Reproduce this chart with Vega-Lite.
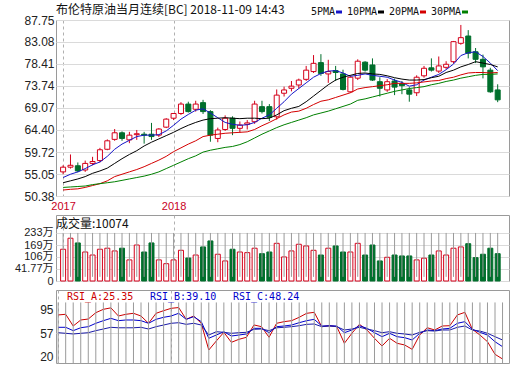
{
 "$schema": "https://vega.github.io/schema/vega-lite/v6.json",
 "background": "white",
 "padding": {"left": 13, "top": 3, "right": 5, "bottom": 0},
 "config": {
  "view": {"stroke": "#9a9a9a", "strokeWidth": 1},
  "axis": {"labelFont": "Liberation Sans, Noto Sans CJK SC", "labelFontSize": 12, "labelColor": "#222", "domain": false, "ticks": false, "gridColor": "#dadada", "labelPadding": 3, "labelOverlap": false},
  "title": {"font": "Noto Sans CJK SC", "fontSize": 12, "fontWeight": "normal", "color": "#111", "anchor": "start", "frame": "group"},
  "legend": {"labelFont": "DejaVu Sans Mono", "labelFontSize": 10, "labelColor": "#111"}
 },
 "spacing": 2,
 "resolve": {"scale": {"color": "independent"}, "legend": {"color": "independent"}},
 "datasets": {"wk": [
  {"date":"2017-09-22","o":55.5,"h":56.9,"l":55.0,"c":56.5,"v":146.6,"ma5":54.3,"ma10":53.2,"ma20":51.65,"ma30":52.2,"rsiA":86.9,"rsiB":66.8,"rsiC":58},
  {"date":"2017-09-29","o":56.5,"h":59.2,"l":56.2,"c":56.9,"v":205,"ma5":55.0,"ma10":53.6,"ma20":51.8,"ma30":52.3,"rsiA":88.0,"rsiB":66.8,"rsiC":57},
  {"date":"2017-10-06","o":56.8,"h":57.5,"l":55.4,"c":55.7,"v":180,"ma5":55.5,"ma10":54.0,"ma20":51.9,"ma30":52.4,"rsiA":68.9,"rsiB":61.3,"rsiC":55.9},
  {"date":"2017-10-13","o":55.9,"h":57.9,"l":55.5,"c":57.3,"v":132,"ma5":56.2,"ma10":54.5,"ma20":52.2,"ma30":52.5,"rsiA":78.7,"rsiB":66.1,"rsiC":57},
  {"date":"2017-10-20","o":57.3,"h":58.7,"l":56.9,"c":57.7,"v":116,"ma5":57.0,"ma10":55.2,"ma20":52.6,"ma30":52.8,"rsiA":80.3,"rsiB":67.8,"rsiC":58},
  {"date":"2017-10-27","o":57.9,"h":60.6,"l":57.5,"c":60.2,"v":146.6,"ma5":57.6,"ma10":55.7,"ma20":53.0,"ma30":53.0,"rsiA":90.6,"rsiB":73.3,"rsiC":61.3},
  {"date":"2017-11-03","o":60.3,"h":62.4,"l":60.1,"c":62.1,"v":152,"ma5":58.8,"ma10":56.3,"ma20":53.6,"ma30":53.2,"rsiA":96.1,"rsiB":77.6,"rsiC":64},
  {"date":"2017-11-10","o":62.4,"h":64.6,"l":62.1,"c":63.8,"v":137.6,"ma5":60.3,"ma10":57.3,"ma20":54.5,"ma30":53.4,"rsiA":98.5,"rsiB":81.4,"rsiC":66.8},
  {"date":"2017-11-17","o":63.8,"h":64.1,"l":62.1,"c":62.6,"v":152,"ma5":61.4,"ma10":58.3,"ma20":55.0,"ma30":53.7,"rsiA":85.2,"rsiB":77.6,"rsiC":66},
  {"date":"2017-11-24","o":62.3,"h":64.0,"l":61.6,"c":63.3,"v":90,"ma5":62.2,"ma10":59.2,"ma20":55.5,"ma30":54.0,"rsiA":88,"rsiB":78.7,"rsiC":66},
  {"date":"2017-12-01","o":63.4,"h":64.4,"l":62.3,"c":63.6,"v":169,"ma5":63.0,"ma10":60.0,"ma20":56.0,"ma30":54.3,"rsiA":89.6,"rsiB":78.7,"rsiC":66},
  {"date":"2017-12-08","o":63.5,"h":64.0,"l":61.5,"c":63.3,"v":132,"ma5":63.3,"ma10":61.0,"ma20":56.6,"ma30":54.6,"rsiA":85.2,"rsiB":77.6,"rsiC":66.8},
  {"date":"2017-12-15","o":63.5,"h":65.9,"l":62.3,"c":63.0,"v":180,"ma5":63.3,"ma10":61.8,"ma20":57.3,"ma30":55.0,"rsiA":73.3,"rsiB":73.3,"rsiC":64},
  {"date":"2017-12-22","o":63.3,"h":64.8,"l":62.9,"c":64.6,"v":90,"ma5":63.4,"ma10":62.5,"ma20":58.0,"ma30":55.5,"rsiA":89.6,"rsiB":79.8,"rsiC":67.8},
  {"date":"2017-12-29","o":65.0,"h":66.9,"l":64.8,"c":66.7,"v":70,"ma5":64.2,"ma10":63.2,"ma20":58.8,"ma30":56.2,"rsiA":93.9,"rsiB":83.1,"rsiC":70.5},
  {"date":"2018-01-05","o":66.9,"h":68.0,"l":66.5,"c":67.9,"v":90,"ma5":65.4,"ma10":63.9,"ma20":59.8,"ma30":56.9,"rsiA":97.7,"rsiB":85.2,"rsiC":73.3},
  {"date":"2018-01-12","o":67.9,"h":70.3,"l":67.6,"c":69.9,"v":141,"ma5":66.7,"ma10":64.7,"ma20":60.6,"ma30":57.6,"rsiA":99,"rsiB":89.6,"rsiC":74.3},
  {"date":"2018-01-19","o":69.9,"h":70.4,"l":68.1,"c":68.3,"v":100,"ma5":67.7,"ma10":65.4,"ma20":61.4,"ma30":58.3,"rsiA":79.8,"rsiB":79.8,"rsiC":71.6},
  {"date":"2018-01-26","o":68.8,"h":70.6,"l":68.3,"c":69.9,"v":116,"ma5":68.6,"ma10":66.0,"ma20":62.1,"ma30":58.9,"rsiA":85.2,"rsiB":84.1,"rsiC":73.3},
  {"date":"2018-02-02","o":70.2,"h":70.8,"l":67.8,"c":68.3,"v":158.8,"ma5":68.9,"ma10":66.5,"ma20":63.0,"ma30":59.7,"rsiA":73.3,"rsiB":76,"rsiC":70.5},
  {"date":"2018-02-09","o":68.3,"h":68.6,"l":61.9,"c":63.3,"v":190.6,"ma5":68.0,"ma10":66.8,"ma20":63.3,"ma30":60.1,"rsiA":29.8,"rsiB":48.9,"rsiC":54.2},
  {"date":"2018-02-16","o":62.6,"h":64.9,"l":61.8,"c":64.4,"v":120,"ma5":67.0,"ma10":66.9,"ma20":63.5,"ma30":60.4,"rsiA":44.5,"rsiB":54.2,"rsiC":59.6},
  {"date":"2018-02-23","o":64.5,"h":67.5,"l":64.2,"c":66.9,"v":84.6,"ma5":66.0,"ma10":67.0,"ma20":63.7,"ma30":60.7,"rsiA":58.6,"rsiB":59.6,"rsiC":58.6},
  {"date":"2018-03-02","o":66.9,"h":67.3,"l":63.3,"c":64.75,"v":146.6,"ma5":65.6,"ma10":66.9,"ma20":63.8,"ma30":60.9,"rsiA":42.3,"rsiB":52.6,"rsiC":57},
  {"date":"2018-03-09","o":64.75,"h":66.2,"l":63.8,"c":65.45,"v":132,"ma5":65.4,"ma10":66.8,"ma20":63.9,"ma30":61.3,"rsiA":47.2,"rsiB":54.2,"rsiC":58},
  {"date":"2018-03-16","o":65.6,"h":66.5,"l":64.5,"c":65.9,"v":128.6,"ma5":65.5,"ma10":66.9,"ma20":64.0,"ma30":61.9,"rsiA":50.5,"rsiB":55.9,"rsiC":58.6},
  {"date":"2018-03-23","o":66.15,"h":70.6,"l":65.7,"c":69.9,"v":152,"ma5":66.0,"ma10":66.9,"ma20":64.5,"ma30":62.7,"rsiA":70.6,"rsiB":65.1,"rsiC":63.5},
  {"date":"2018-03-30","o":69.35,"h":70.6,"l":67.9,"c":68.3,"v":123,"ma5":66.9,"ma10":66.8,"ma20":65.3,"ma30":63.5,"rsiA":67.8,"rsiB":65.1,"rsiC":64},
  {"date":"2018-04-06","o":69.35,"h":69.9,"l":66.3,"c":67.1,"v":132,"ma5":67.6,"ma10":66.9,"ma20":66.0,"ma30":64.2,"rsiA":50.5,"rsiB":58,"rsiC":61.3},
  {"date":"2018-04-13","o":67.2,"h":73.0,"l":66.6,"c":71.8,"v":178,"ma5":69.0,"ma10":67.6,"ma20":66.8,"ma30":64.9,"rsiA":73.3,"rsiB":67.8,"rsiC":66},
  {"date":"2018-04-20","o":72.2,"h":73.6,"l":71.5,"c":72.9,"v":105.8,"ma5":70.4,"ma10":68.5,"ma20":67.6,"ma30":65.5,"rsiA":76,"rsiB":68.9,"rsiC":66.8},
  {"date":"2018-04-27","o":73.25,"h":74.8,"l":72.6,"c":73.7,"v":137.6,"ma5":72.0,"ma10":69.0,"ma20":68.2,"ma30":66.0,"rsiA":77.6,"rsiB":70.5,"rsiC":67.8},
  {"date":"2018-05-04","o":73.95,"h":75.3,"l":73.2,"c":75.0,"v":173,"ma5":73.2,"ma10":69.4,"ma20":68.4,"ma30":66.5,"rsiA":83.1,"rsiB":74.3,"rsiC":69.4},
  {"date":"2018-05-11","o":75.15,"h":78.0,"l":74.8,"c":77.1,"v":164,"ma5":74.4,"ma10":70.4,"ma20":69.0,"ma30":67.0,"rsiA":89.6,"rsiB":77.6,"rsiC":71.6},
  {"date":"2018-05-18","o":76.8,"h":80.3,"l":76.5,"c":78.55,"v":141,"ma5":75.6,"ma10":71.6,"ma20":69.8,"ma30":67.6,"rsiA":91.2,"rsiB":79.8,"rsiC":72.2},
  {"date":"2018-05-25","o":78.7,"h":80.5,"l":75.9,"c":76.4,"v":116,"ma5":76.4,"ma10":72.8,"ma20":70.5,"ma30":68.0,"rsiA":67.8,"rsiB":68.9,"rsiC":67.8},
  {"date":"2018-06-01","o":76.3,"h":79.3,"l":74.4,"c":76.8,"v":152,"ma5":76.9,"ma10":74.0,"ma20":70.8,"ma30":68.4,"rsiA":69.4,"rsiB":69.4,"rsiC":68.9},
  {"date":"2018-06-08","o":77.0,"h":78.0,"l":74.8,"c":76.6,"v":164,"ma5":77.0,"ma10":75.0,"ma20":71.3,"ma30":68.9,"rsiA":67.8,"rsiB":68.9,"rsiC":67.8},
  {"date":"2018-06-15","o":76.3,"h":77.2,"l":72.8,"c":73.0,"v":132,"ma5":76.5,"ma10":75.6,"ma20":71.8,"ma30":69.4,"rsiA":40.7,"rsiB":58,"rsiC":62.4},
  {"date":"2018-06-22","o":72.5,"h":76.0,"l":72.3,"c":75.6,"v":132,"ma5":75.8,"ma10":76.0,"ma20":72.3,"ma30":69.9,"rsiA":57,"rsiB":62.4,"rsiC":64},
  {"date":"2018-06-29","o":75.4,"h":79.4,"l":75.0,"c":79.0,"v":178,"ma5":76.0,"ma10":76.4,"ma20":73.1,"ma30":70.7,"rsiA":71.7,"rsiB":69.4,"rsiC":66.8},
  {"date":"2018-07-06","o":78.8,"h":79.0,"l":76.8,"c":77.1,"v":116,"ma5":76.3,"ma10":76.5,"ma20":73.4,"ma30":71.0,"rsiA":62.4,"rsiB":65.1,"rsiC":64},
  {"date":"2018-07-13","o":78.2,"h":79.6,"l":74.8,"c":75.0,"v":169,"ma5":76.0,"ma10":76.3,"ma20":73.6,"ma30":71.4,"rsiA":48.9,"rsiB":58,"rsiC":61.3},
  {"date":"2018-07-20","o":74.65,"h":75.6,"l":71.5,"c":73.25,"v":84.6,"ma5":75.8,"ma10":76.2,"ma20":73.8,"ma30":71.8,"rsiA":36.3,"rsiB":51.5,"rsiC":58},
  {"date":"2018-07-27","o":72.9,"h":75.2,"l":72.5,"c":74.65,"v":104,"ma5":75.6,"ma10":75.9,"ma20":74.0,"ma30":72.2,"rsiA":48.9,"rsiB":57,"rsiC":59.6},
  {"date":"2018-08-03","o":74.8,"h":75.3,"l":71.8,"c":73.5,"v":116,"ma5":75.0,"ma10":75.5,"ma20":74.3,"ma30":72.6,"rsiA":40.7,"rsiB":51.5,"rsiC":57},
  {"date":"2018-08-10","o":74.2,"h":74.8,"l":72.0,"c":73.8,"v":111,"ma5":74.5,"ma10":75.2,"ma20":74.3,"ma30":72.9,"rsiA":38,"rsiB":49.9,"rsiC":55.9},
  {"date":"2018-08-17","o":72.9,"h":73.5,"l":70.4,"c":72.0,"v":111,"ma5":73.7,"ma10":75.0,"ma20":74.3,"ma30":73.2,"rsiA":30.9,"rsiB":46.1,"rsiC":54.2},
  {"date":"2018-08-24","o":72.3,"h":76.0,"l":71.6,"c":75.6,"v":90,"ma5":74.0,"ma10":75.0,"ma20":74.4,"ma30":73.4,"rsiA":54.2,"rsiB":57,"rsiC":58.6},
  {"date":"2018-08-31","o":75.9,"h":78.0,"l":75.5,"c":77.5,"v":99,"ma5":75.0,"ma10":75.1,"ma20":74.6,"ma30":73.6,"rsiA":66.1,"rsiB":62.4,"rsiC":61.3},
  {"date":"2018-09-07","o":77.6,"h":79.6,"l":76.8,"c":77.1,"v":116,"ma5":75.6,"ma10":75.5,"ma20":74.8,"ma30":74.0,"rsiA":62.4,"rsiB":61.3,"rsiC":60.7},
  {"date":"2018-09-14","o":76.9,"h":80.0,"l":76.5,"c":78.0,"v":137.6,"ma5":76.2,"ma10":75.8,"ma20":74.9,"ma30":74.3,"rsiA":68.9,"rsiB":64,"rsiC":62.4},
  {"date":"2018-09-21","o":77.7,"h":79.0,"l":77.3,"c":78.35,"v":116,"ma5":77.2,"ma10":76.6,"ma20":75.3,"ma30":74.7,"rsiA":69.4,"rsiB":65.1,"rsiC":62.4},
  {"date":"2018-09-28","o":78.9,"h":83.3,"l":78.5,"c":83.15,"v":152,"ma5":78.4,"ma10":77.1,"ma20":75.6,"ma30":75.0,"rsiA":86.9,"rsiB":73.3,"rsiC":66.8},
  {"date":"2018-10-05","o":82.8,"h":86.7,"l":82.5,"c":84.0,"v":158.8,"ma5":80.2,"ma10":77.8,"ma20":76.1,"ma30":75.4,"rsiA":91.2,"rsiB":76,"rsiC":68.9},
  {"date":"2018-10-12","o":84.35,"h":85.6,"l":79.6,"c":80.7,"v":176,"ma5":80.8,"ma10":78.3,"ma20":76.5,"ma30":75.7,"rsiA":63.5,"rsiB":63.5,"rsiC":62.4},
  {"date":"2018-10-19","o":81.0,"h":81.8,"l":78.6,"c":79.4,"v":102,"ma5":81.0,"ma10":78.9,"ma20":76.6,"ma30":76.0,"rsiA":54.2,"rsiB":58.6,"rsiC":60.7},
  {"date":"2018-10-26","o":79.4,"h":80.4,"l":75.35,"c":77.8,"v":120,"ma5":80.0,"ma10":78.6,"ma20":76.6,"ma30":76.2,"rsiA":43.3,"rsiB":54.2,"rsiC":57},
  {"date":"2018-11-02","o":77.1,"h":77.6,"l":72.3,"c":72.5,"v":152,"ma5":78.6,"ma10":78.3,"ma20":76.5,"ma30":76.2,"rsiA":22.8,"rsiB":43.3,"rsiC":51.5},
  {"date":"2018-11-09","o":72.9,"h":74.1,"l":70.3,"c":70.8,"v":123,"ma5":77.0,"ma10":77.8,"ma20":76.6,"ma30":76.3,"rsiA":15.1,"rsiB":35.2,"rsiC":46.1}
 ]},
 "vconcat": [
  {
   "data": {"name": "wk"},
   "width": 453, "height": 176,
   "title": {"text": "布伦特原油当月连续[BC] 2018-11-09 14:43", "offset": -10},
   "encoding": {"x": {"field": "date", "type": "temporal", "title": null,
     "scale": {"type": "utc", "domain": [{"year": 2017, "month": 9, "date": 20, "utc": true}, {"year": 2018, "month": 11, "date": 15, "utc": true}]},
     "axis": {"values": [{"year": 2017, "month": 9, "date": 22, "utc": true}, {"year": 2018, "month": 1, "date": 5, "utc": true}], "format": "%Y", "labelColor": "#c8001e", "labelFontSize": 11, "labelPadding": 4, "labelFlush": 5, "grid": true, "gridDash": [3, 3], "gridColor": "#b0b0b0"}}},
   "layer": [
    {"mark": {"type": "rule", "strokeWidth": 1},
     "encoding": {
      "y": {"field": "l", "type": "quantitative", "title": null, "scale": {"domain": [50.38, 87.75], "nice": false, "zero": false},
        "axis": {"values": [50.38, 55.05, 59.72, 64.40, 69.07, 73.74, 78.41, 83.08, 87.75], "tickCount": 20, "format": ".2f", "grid": true, "labelPadding": 2}},
      "y2": {"field": "h"},
      "color": {"condition": {"test": "datum.c >= datum.o", "value": "#d4001a"}, "value": "#006f2c"}}},
    {"mark": {"type": "bar", "size": 5, "strokeWidth": 1},
     "encoding": {
      "y": {"field": "o", "type": "quantitative", "title": null},
      "y2": {"field": "c"},
      "fill": {"condition": {"test": "datum.c >= datum.o", "value": "#ffffff"}, "value": "#006f2c"},
      "stroke": {"condition": {"test": "datum.c >= datum.o", "value": "#d4001a"}, "value": "#006f2c"}}},
    {"transform": [{"fold": ["ma5", "ma10", "ma20", "ma30"], "as": ["ma", "val"]}],
     "mark": {"type": "line", "strokeWidth": 1},
     "encoding": {
      "y": {"field": "val", "type": "quantitative", "title": null},
      "color": {"field": "ma", "type": "nominal", "title": null,
        "scale": {"domain": ["ma5", "ma10", "ma20", "ma30"], "range": ["#1515c8", "#000000", "#d40000", "#008000"]},
        "legend": {"orient": "none", "legendX": 278, "legendY": -13, "direction": "horizontal", "symbolType": "stroke", "symbolSize": 36, "symbolStrokeWidth": 3, "labelAlign": "right", "labelOffset": -9, "columnPadding": -2, "labelExpr": "replace(datum.label, 'ma', '') + 'PMA'", "title": null}}}}
   ]
  },
  {
   "data": {"name": "wk"},
   "width": 453, "height": 66,
   "title": {"text": "成交量:10074", "offset": -15.5},
   "encoding": {"x": {"field": "date", "type": "temporal", "title": null,
     "scale": {"type": "utc", "domain": [{"year": 2017, "month": 9, "date": 20, "utc": true}, {"year": 2018, "month": 11, "date": 15, "utc": true}]},
     "axis": {"values": [{"year": 2017, "month": 9, "date": 22, "utc": true}, {"year": 2018, "month": 1, "date": 5, "utc": true}], "labels": false, "grid": true, "gridDash": [3, 3], "gridColor": "#b0b0b0"}}},
   "layer": [
    {"mark": {"type": "bar", "size": 5, "strokeWidth": 1},
     "encoding": {
      "y": {"field": "v", "type": "quantitative", "title": null, "scale": {"domain": [-21.9, 328.2], "nice": false, "zero": false},
        "axis": {"values": [-21.9, 41.77, 106, 169, 233], "tickCount": 20, "labelFontSize": 11, "labelExpr": "datum.value < 0 ? '0' : datum.value + '万'", "grid": true}},
      "y2": {"datum": -21.9},
      "fill": {"condition": {"test": "datum.c >= datum.o", "value": "#ffffff"}, "value": "#006f2c"},
      "stroke": {"condition": {"test": "datum.c >= datum.o", "value": "#d4001a"}, "value": "#006f2c"}}},
    {"mark": {"type": "rule", "color": "#9a9a9a"}, "encoding": {"y": {"datum": 233}}}
   ]
  },
  {
   "data": {"name": "wk"},
   "width": 453, "height": 73,
   "encoding": {"x": {"field": "date", "type": "temporal", "title": null,
     "scale": {"type": "utc", "domain": [{"year": 2017, "month": 9, "date": 20, "utc": true}, {"year": 2018, "month": 11, "date": 15, "utc": true}]},
     "axis": {"values": [{"year": 2017, "month": 9, "date": 22, "utc": true}, {"year": 2018, "month": 1, "date": 5, "utc": true}], "labels": false, "grid": true, "gridDash": [3, 3], "gridColor": "#b0b0b0"}}},
   "layer": [
    {"transform": [{"fold": ["rsiA", "rsiB", "rsiC"], "as": ["rsi", "val"]}],
     "mark": {"type": "line", "strokeWidth": 1},
     "encoding": {
      "y": {"field": "val", "type": "quantitative", "title": null, "scale": {"domain": [8.6, 127.6], "nice": false, "zero": false},
        "axis": {"values": [20, 57, 95], "tickCount": 20, "grid": true, "gridOpacity": {"condition": {"test": "datum.value == 57", "value": 1}, "value": 0}}},
      "color": {"field": "rsi", "type": "nominal", "title": null,
        "scale": {"domain": ["rsiA", "rsiB", "rsiC"], "range": ["#cc0000", "#0000cc", "#1a1aa8"]},
        "legend": {"orient": "none", "legendX": 1, "legendY": 2, "direction": "horizontal", "symbolSize": 0, "symbolStrokeWidth": 0, "labelOffset": 0, "columnPadding": 6, "title": null,
          "labelExpr": "datum.label == 'rsiA' ? 'RSI_A:25.35' : datum.label == 'rsiB' ? 'RSI_B:39.10' : 'RSI_C:48.24'",
          "encode": {"labels": {"update": {"fill": {"signal": "datum.value == 'rsiA' ? '#cc0000' : '#0000cc'"}}}}}}}},
    {"mark": {"type": "rule", "color": "#9a9a9a"}, "encoding": {"y": {"datum": 107.3}}}
   ]
  }
 ]
}
